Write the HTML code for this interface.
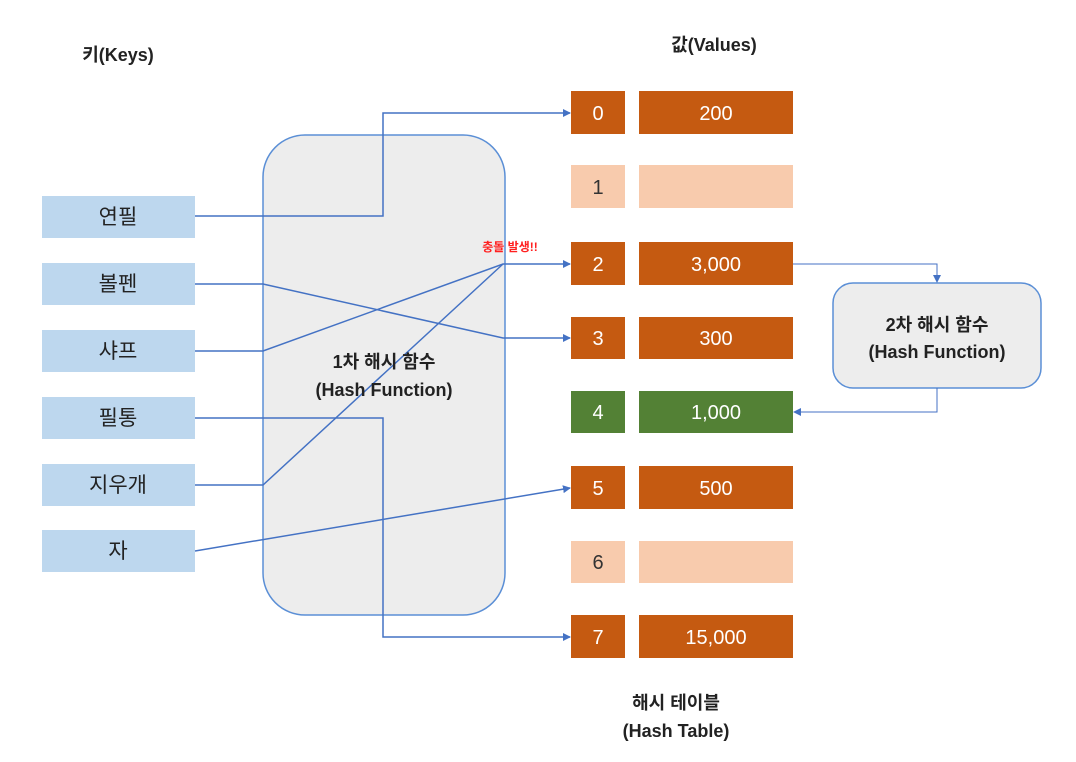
<!DOCTYPE html>
<html><head><meta charset="utf-8"><style>
html,body{margin:0;padding:0;background:#fff;}
body{width:1076px;height:762px;overflow:hidden;position:relative;font-family:"Liberation Sans","Noto Sans CJK KR",sans-serif;}
.t{position:absolute;text-align:center;}
</style></head><body>
<svg width="1076" height="762" style="position:absolute;left:0;top:0" font-family="Liberation Sans, Noto Sans CJK KR, sans-serif">
<defs><marker id="a" markerWidth="8" markerHeight="8" refX="7" refY="4" orient="auto" markerUnits="userSpaceOnUse"><path d="M0,0 L8,4 L0,8 z" fill="#4472c4"/></marker></defs>
<rect x="263" y="135" width="242" height="480" rx="42" fill="#ededed" stroke="#5b8fd6" stroke-width="1.5"/>
<rect x="833" y="283" width="208" height="105" rx="20" fill="#ededed" stroke="#5b8fd6" stroke-width="1.5"/>
<g fill="#bdd7ee">
<rect x="42" y="196" width="153" height="42"/><rect x="42" y="263" width="153" height="42"/>
<rect x="42" y="330" width="153" height="42"/><rect x="42" y="397" width="153" height="42"/>
<rect x="42" y="464" width="153" height="42"/><rect x="42" y="530" width="153" height="42"/>
</g>
<g font-size="21" fill="#222" text-anchor="middle">
<text x="118" y="224">연필</text><text x="118" y="291">볼펜</text><text x="118" y="358">샤프</text>
<text x="118" y="425">필통</text><text x="118" y="492">지우개</text><text x="118" y="558">자</text>
</g>
<g>
<rect x="571" y="91" width="54" height="43" fill="#c55a11"/><rect x="639" y="91" width="154" height="43" fill="#c55a11"/>
<rect x="571" y="165" width="54" height="43" fill="#f8cbad"/><rect x="639" y="165" width="154" height="43" fill="#f8cbad"/>
<rect x="571" y="242" width="54" height="43" fill="#c55a11"/><rect x="639" y="242" width="154" height="43" fill="#c55a11"/>
<rect x="571" y="317" width="54" height="42" fill="#c55a11"/><rect x="639" y="317" width="154" height="42" fill="#c55a11"/>
<rect x="571" y="391" width="54" height="42" fill="#538135"/><rect x="639" y="391" width="154" height="42" fill="#538135"/>
<rect x="571" y="466" width="54" height="43" fill="#c55a11"/><rect x="639" y="466" width="154" height="43" fill="#c55a11"/>
<rect x="571" y="541" width="54" height="42" fill="#f8cbad"/><rect x="639" y="541" width="154" height="42" fill="#f8cbad"/>
<rect x="571" y="615" width="54" height="43" fill="#c55a11"/><rect x="639" y="615" width="154" height="43" fill="#c55a11"/>
</g>
<g font-size="20" text-anchor="middle" fill="#fff">
<text x="598" y="120">0</text><text x="716" y="120">200</text>
<text x="598" y="194" fill="#333">1</text>
<text x="598" y="271">2</text><text x="716" y="271">3,000</text>
<text x="598" y="345">3</text><text x="716" y="345">300</text>
<text x="598" y="419">4</text><text x="716" y="419">1,000</text>
<text x="598" y="495">5</text><text x="716" y="495">500</text>
<text x="598" y="569" fill="#333">6</text>
<text x="598" y="644">7</text><text x="716" y="644">15,000</text>
</g>
<g stroke="#4472c4" stroke-width="1.5" fill="none">
<polyline points="195,216 383,216 383,113 570,113" marker-end="url(#a)"/>
<polyline points="195,284 263,284 503,338 570,338" marker-end="url(#a)"/>
<polyline points="195,351 263,351 503,264 570,264" marker-end="url(#a)"/>
<polyline points="195,485 263,485 503,264"/>
<polyline points="195,418 383,418 383,637 570,637" marker-end="url(#a)"/>
<polyline points="195,551 570,488" marker-end="url(#a)"/>
<polyline points="793,264 937,264 937,282" marker-end="url(#a)" stroke-width="1"/>
<polyline points="937,388 937,412 794,412" marker-end="url(#a)" stroke-width="1"/>
</g>
<g font-weight="bold" fill="#222" text-anchor="middle" font-size="18">
<text x="118" y="61">키(Keys)</text>
<text x="714" y="51">값(Values)</text>
<text x="384" y="368">1차 해시 함수</text>
<text x="384" y="396">(Hash Function)</text>
<text x="937" y="331">2차 해시 함수</text>
<text x="937" y="358">(Hash Function)</text>
<text x="676" y="709">해시 테이블</text>
<text x="676" y="737">(Hash Table)</text>
</g>
<text x="510" y="251" font-size="12" font-weight="bold" fill="#ff2020" text-anchor="middle">충돌 발생!!</text>
</svg>
</body></html>
